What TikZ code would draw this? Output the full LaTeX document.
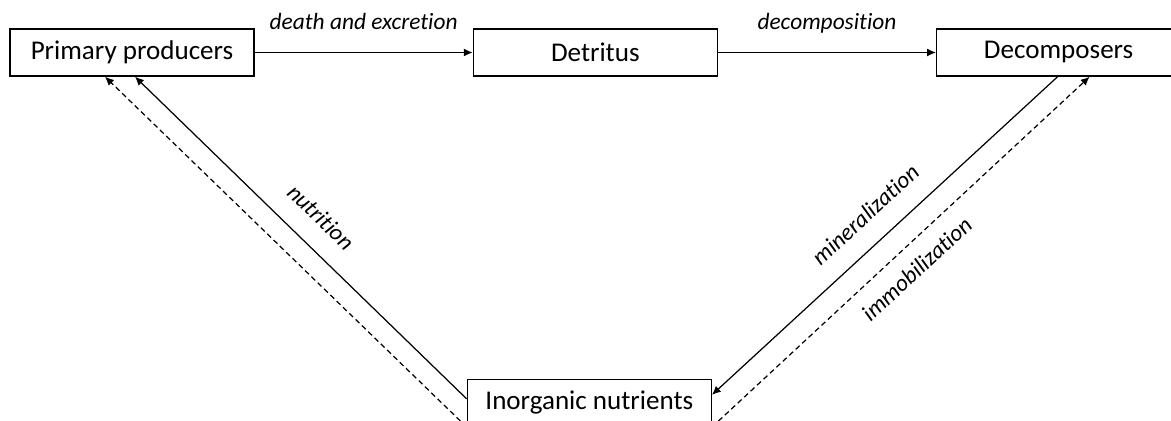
\documentclass[tikz,border=0pt]{standalone}
\usepackage{fontspec}
\setmainfont{Carlito}[Ligatures=NoCommon]
\usepackage{tikz}
\usetikzlibrary{arrows.meta, positioning, calc}
\tikzset{%
	box/.style={draw, rectangle, line width=0.8pt, minimum width=4.88cm,%
		minimum height=0.94cm, inner sep=0mm, font=\fontsize{15.4}{18}\selectfont},
	flow/.style={-{Latex[length=5pt, width=4.5pt]}, line width=0.7pt},
	back/.style={flow, dash pattern=on 3pt off 2pt},
	lbl/.style={font=\itshape\fontsize{13.3}{16}\selectfont, text height=1.5ex, text depth=.25ex}
}

\begin{document}
\begin{tikzpicture}[x=0.02cm, y=-0.02cm]
	\path[use as bounding box, clip] (0,0) rectangle (1171,421);

	\node[box] (prim) at (132,52.5) {Primary producers};
	\node[box, right=4.36cm of prim] (detr) {Detritus};
	\node[box, right=4.36cm of detr] (decomp) {Decomposers};
	\node[box, below=6.04cm of detr, xshift=-0.12cm] (inorg) {Inorganic nutrients};

	\draw[flow] (prim) to node[lbl, above=8pt] {death and excretion} (detr);
	\draw[flow] (detr) to node[lbl, above=8pt] {decomposition} (decomp);

	\draw[flow] ($(inorg.west)+(0,-4)$) to node[lbl, sloped, above=7pt] {nutrition} ($(prim.south)+(3,0)$);
	\draw[back] (inorg.south west) to ($(prim.south)+(-27,0)$);

	\draw[flow] ($(decomp.south)+(-1,0)$) to node[lbl, sloped, above=7pt] {mineralization} ($(inorg.east)+(0,-8)$);
	\draw[back] (inorg.south east) to node[lbl, sloped, below=7pt] {immobilization} ($(decomp.south)+(31,0)$);
\end{tikzpicture}
\end{document}
